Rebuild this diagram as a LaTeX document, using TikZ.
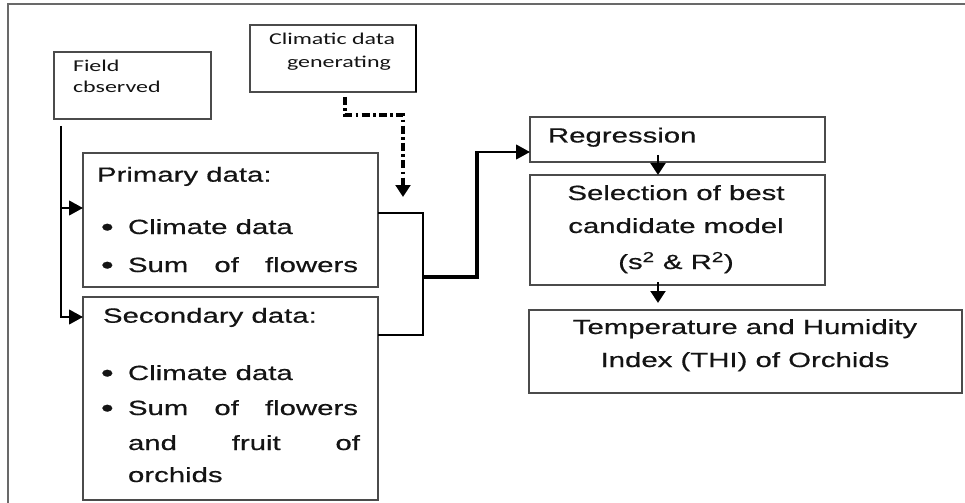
\documentclass[tikz,border=0pt]{standalone}
\usepackage{fontspec}
\newfontfamily\arialx[FakeStretch=1.43,FakeBold=0.6]{Liberation Sans}
\newfontfamily\calx[FakeStretch=1.45]{Carlito}
\usetikzlibrary{arrows.meta,calc}
\definecolor{boxgray}{RGB}{75,75,75}
\definecolor{framegray}{RGB}{105,105,105}
\definecolor{txtcol}{RGB}{20,20,20}
\def\PX{0.75pt}
\newcommand{\bul}{\raisebox{-1.2pt}{\fontsize{19}{19}\selectfont •}}
\begin{document}
\begin{tikzpicture}[x=0.75pt,y=-0.75pt,
 box/.style={draw=boxgray, line width=1.1pt, inner sep=0pt, outer sep=0pt, anchor=north west},
 conn/.style={line width=1.6pt, draw=black},
 arr/.style={conn, -{Triangle[length=10.5pt,width=11pt]}},
 darr/.style={line width=2.2pt, draw=black, -{Triangle[length=9pt,width=11pt]}},
 dd/.style={line width=2.4pt, draw=black, dash pattern=on 6pt off 2.5pt on 2pt off 2.5pt, -{Triangle[length=9pt,width=11pt]}},
 txt/.style={inner sep=0pt, outer sep=0pt, anchor=base west, text=txtcol, font=\arialx\fontsize{15.4}{18}\selectfont},
 ctxt/.style={txt, anchor=base},
 ftxt/.style={inner sep=0pt, outer sep=0pt, anchor=base west, text=txtcol, font=\calx\fontsize{12.4}{15}\selectfont}
]
\useasboundingbox (0,0) rectangle (965,503);
% outer frame
\draw[framegray, line width=1.5pt] (965,4) -- (8,4) -- (8,503);

% boxes
\node[box, minimum width=157*\PX, minimum height=67*\PX] (field) at (54,52) {};
\node[box, minimum width=166*\PX, minimum height=67*\PX] (clim) at (250,25) {};
\node[box, minimum width=295*\PX, minimum height=134*\PX] (prim) at (83,153) {};
\node[box, minimum width=295*\PX, minimum height=203*\PX] (sec) at (83,297) {};
\node[box, minimum width=295*\PX, minimum height=45*\PX] (reg) at (530,117) {};
\node[box, minimum width=295*\PX, minimum height=110*\PX] (sel) at (530,175) {};
\node[box, minimum width=433*\PX, minimum height=83*\PX] (thi) at (529,310) {};
\draw[line width=1.6pt] (clim.north east) -- (clim.south east);

% texts
\node[ftxt] (tf1) at (73,72) {Field};
\node[ftxt] (tf2) at (73,93) {cbserved};
\node[ftxt] (tc1) at (269,45) {Climatic data};
\node[ftxt] (tc2) at (287,68) {generating};

\node[txt] (p0) at (97,181.7) {Primary data:};
\node[txt] (pb1) at (101,234) {\bul};
\node[txt] (p1) at (128,234) {Climate data};
\node[txt] (pb2) at (101,272) {\bul};
\node[txt] (p2) at (128,272) {\hbox to 172.5pt{Sum\hfill of\hfill flowers}};

\node[txt] (s0) at (103,322.7) {Secondary data:};
\node[txt] (sb1) at (101,380) {\bul};
\node[txt] (s1) at (128,380) {Climate data};
\node[txt] (sb2) at (101,415) {\bul};
\node[txt] (s2) at (128,415) {\hbox to 172.5pt{Sum\hfill of\hfill flowers}};
\node[txt] (s3) at (128,450) {\hbox to 174pt{and\hfill fruit\hfill of}};
\node[txt] (s4) at (128,482) {orchids};

\node[txt] (rg) at (548,142.5) {Regression};
\node[ctxt] (se1) at (676,200) {Selection of best};
\node[ctxt] (se2) at (676,233) {candidate model};
\node[ctxt] (se3) at (676,269) {(s\textsuperscript{2} \& R\textsuperscript{2})};
\node[ctxt] (th1) at (745,334) {Temperature and Humidity};
\node[ctxt] (th2) at (745,367) {Index (THI) of Orchids};

% connectors
\coordinate (fs) at (61,126);
\coordinate (b1) at (61,208);
\draw[arr] (fs) |- ($(sec.north west)+(0,20)$);
\draw[arr] (b1) -- ($(prim.north west)+(0,55)$);

\coordinate (cd) at ($(clim.south west)+(95,5)$);
\coordinate (cd1) at (345,115);
\coordinate (cd2) at (403,115);
\coordinate (cdend) at (403,197);
\draw[dd] (cd) -- (cd1) -- (cd2) -- (cdend);

\coordinate (r1) at (423,213);
\coordinate (r2) at (423,335);
\coordinate (j) at (423,277);
\coordinate (r3) at (477,277);
\draw[conn] ($(prim.north east)+(0,60)$) -- (r1) -- (r2) -- ($(sec.north east)+(0,38)$);
\draw[line width=2.3pt] (j) -- (r3) -- (477,151);
\draw[arr] (477,152) coordinate (r4) -- ($(reg.south west)+(0,-10)$);

\draw[darr] ($(reg.south west)+(128,-7)$) -- ($(sel.north west)+(128,0)$);
\draw[darr] ($(sel.south west)+(128,-3)$) -- ($(thi.north west)+(129,-7)$);
\end{tikzpicture}
\end{document}
